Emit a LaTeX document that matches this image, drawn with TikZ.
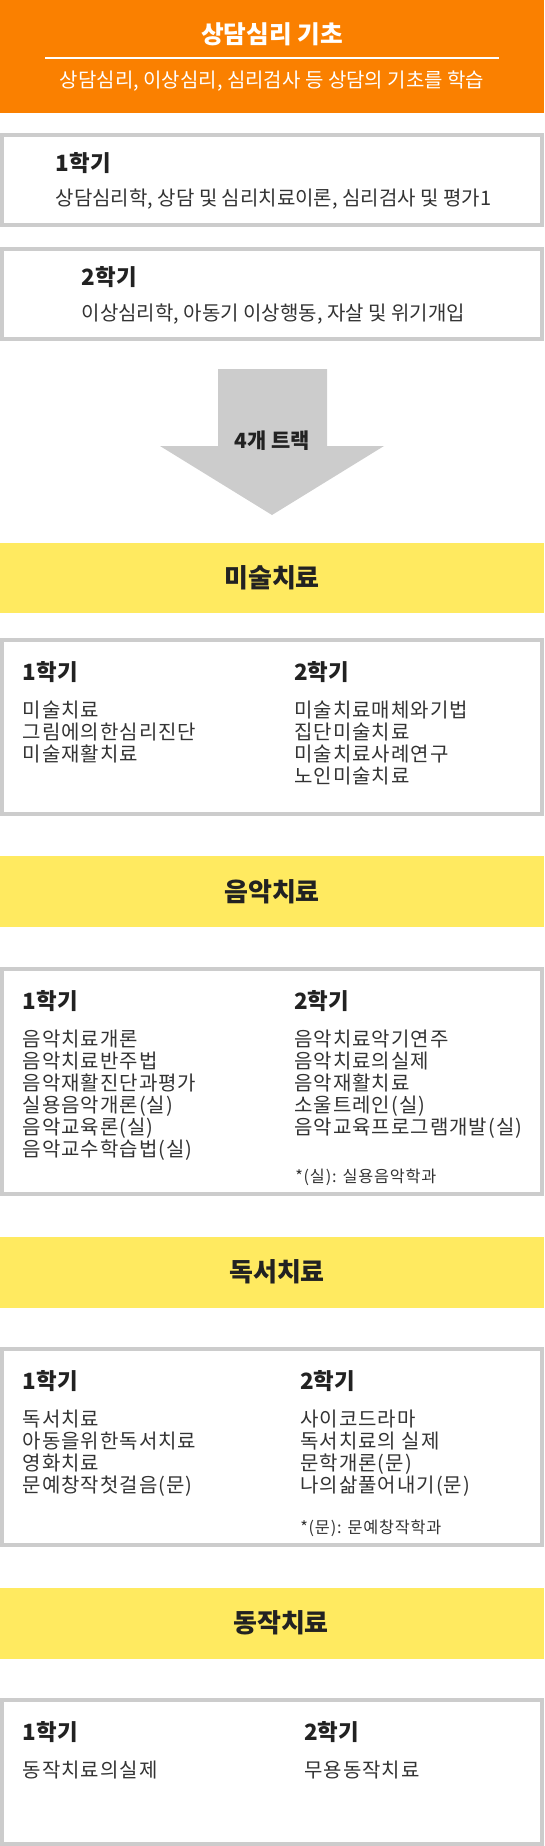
\documentclass[tikz,border=0pt]{standalone}
\usepackage{fontspec}
\setmainfont{Noto Sans CJK KR}
\newfontfamily\spacedkr[LetterSpace=5]{Noto Sans CJK KR}
\usetikzlibrary{calc}
\definecolor{headorange}{RGB}{250,128,0}
\definecolor{trackyellow}{RGB}{255,234,96}
\definecolor{framegray}{RGB}{204,204,204}
\definecolor{textdark}{RGB}{34,34,34}
\definecolor{textmid}{RGB}{51,51,51}

\begin{document}
\begin{tikzpicture}[x=0.75pt, y=-0.75pt,
header/.style={fill=headorange},
band/.style={fill=trackyellow},
frame/.style={draw=framegray, line width=3pt, fill=white},
headtitle/.style={anchor=base, inner sep=0, text=white, font=\bfseries\fontsize{18.5}{22}\selectfont, yshift=-6.7pt},
headsub/.style={anchor=base, inner sep=0, text=white, font=\fontsize{15}{18}\selectfont, yshift=-5.4pt},
bandtitle/.style={anchor=base, inner sep=0, text=textdark, font=\bfseries\fontsize{19.5}{23}\selectfont, yshift=-7pt},
term/.style={anchor=base west, inner sep=0, text=textdark, font=\bfseries\fontsize{16.8}{20}\selectfont, yshift=-6pt},
summary/.style={anchor=base west, inner sep=0, text=textmid, font=\fontsize{15}{18}\selectfont, yshift=-5.4pt},
course/.style={anchor=base west, inner sep=0, text=textmid, font=\spacedkr\fontsize{15}{18}\selectfont, yshift=-5.4pt},
footnote/.style={anchor=base west, inner sep=0, text=textmid, font=\spacedkr\fontsize{12.2}{15}\selectfont, yshift=-4.4pt}
]
\useasboundingbox (0,0) rectangle (544,1846);

%% basics
\fill[header] (0,0) rectangle (544,113);
\node[headtitle] (basic) at (272,35) {상담심리 기초};
\draw[white, line width=1.2pt] (45,58) -- (499,58);
\node[headsub] (basicsub) at (272,80) {상담심리, 이상심리, 심리검사 등 상담의 기초를 학습};

\draw[frame] (2,135) rectangle (542,225);
\node[term] (b1) at (55.5,163) {1학기};
\node[summary] (b1c) at (55.5,198) {상담심리학, 상담 및 심리치료이론, 심리검사 및 평가1};

\draw[frame] (2,249) rectangle (542,339);
\node[term] (b2) at (81.5,277) {2학기};
\node[summary] (b2c) at (81.5,313) {이상심리학, 아동기 이상행동, 자살 및 위기개입};

%% arrow
\fill[framegray] (218,369) -- (327,369) -- (327,446) -- (384,446) -- (272,515)
  -- (160,446) -- (218,446) -- cycle;
\node[term, anchor=base, font=\bfseries\fontsize{15.7}{19}\selectfont, yshift=.4pt] (tracks) at (272,441) {4개 트랙};

%% art
\fill[band] (0,543) rectangle (544,613);
\node[bandtitle] (art) at (272,578) {미술치료};
\draw[frame] (2,640) rectangle (542,814);
\node[term] (art1) at (22.5,672) {1학기};
\node[term] (art2) at (294,672) {2학기};
\foreach \c [count=\i from 0] in {미술치료, 그림에의한심리진단, 미술재활치료}
  \node[course] (art1-\i) at (22.5,{710+22*\i}) {\c};
\foreach \c [count=\i from 0] in {미술치료매체와기법, 집단미술치료, 미술치료사례연구, 노인미술치료}
  \node[course] (art2-\i) at (294,{710+22*\i}) {\c};

%% music
\fill[band] (0,856) rectangle (544,927);
\node[bandtitle] (music) at (272,892) {음악치료};
\draw[frame] (2,969) rectangle (542,1194);
\node[term] (music1) at (22.5,1001) {1학기};
\node[term] (music2) at (294,1001) {2학기};
\foreach \c [count=\i from 0] in {음악치료개론, 음악치료반주법, 음악재활진단과평가,
    {실용음악개론(실)}, {음악교육론(실)}, {음악교수학습법(실)}}
  \node[course] (music1-\i) at (22.5,{1039+22*\i}) {\c};
\foreach \c [count=\i from 0] in {음악치료악기연주, 음악치료의실제, 음악재활치료,
    {소울트레인(실)}, {음악교육프로그램개발(실)}}
  \node[course] (music2-\i) at (294,{1039+22*\i}) {\c};
\node[footnote] (musicnote) at (295,1177) {*(실): 실용음악학과};

%% reading
\fill[band] (0,1237) rectangle (544,1308);
\node[bandtitle] (read) at (277,1272) {독서치료};
\draw[frame] (2,1349) rectangle (542,1545);
\node[term] (read1) at (22.5,1381) {1학기};
\node[term] (read2) at (300,1381) {2학기};
\foreach \c [count=\i from 0] in {독서치료, 아동을위한독서치료, 영화치료, {문예창작첫걸음(문)}}
  \node[course] (read1-\i) at (22.5,{1419+22*\i}) {\c};
\foreach \c [count=\i from 0] in {사이코드라마, 독서치료의 실제, {문학개론(문)}, {나의삶풀어내기(문)}}
  \node[course] (read2-\i) at (300,{1419+22*\i}) {\c};
\node[footnote] (readnote) at (300,1528) {*(문): 문예창작학과};

%% movement
\fill[band] (0,1588) rectangle (544,1659);
\node[bandtitle] (move) at (281,1623) {동작치료};
\draw[frame] (2,1700) rectangle (542,1844);
\node[term] (move1) at (22.5,1732) {1학기};
\node[term] (move2) at (304,1732) {2학기};
\node[course] (move1-0) at (22.5,1770) {동작치료의실제};
\node[course] (move2-0) at (304,1770) {무용동작치료};
\end{tikzpicture}
\end{document}
